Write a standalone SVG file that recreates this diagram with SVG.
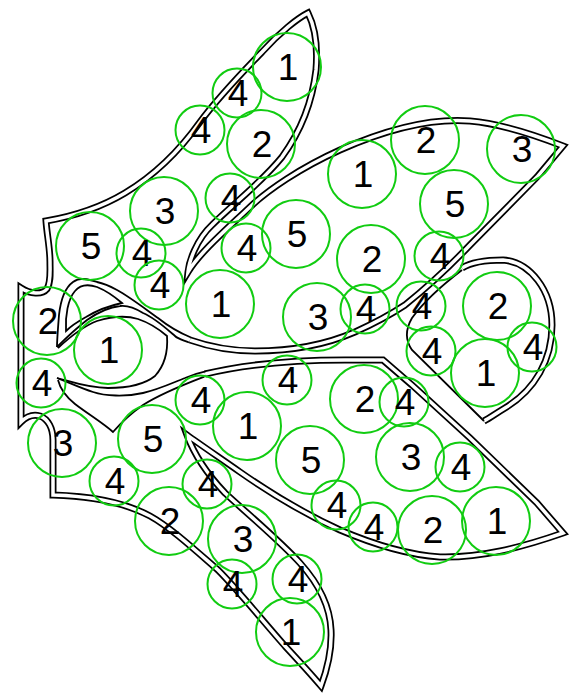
<svg xmlns="http://www.w3.org/2000/svg" width="575" height="698" viewBox="0 0 575 698">
<style>
.bk{fill:none;stroke:#000;stroke-width:7;stroke-linejoin:miter;stroke-miterlimit:12}
.wh{fill:none;stroke:#fff;stroke-width:3.5;stroke-linejoin:miter;stroke-miterlimit:12}
.sl{fill:none;stroke:#000;stroke-width:1.8;stroke-linejoin:miter}
.c{fill:none;stroke:#11cc11;stroke-width:2}
.t{font-family:"Liberation Sans",Arial,sans-serif;font-size:37px;text-anchor:middle;fill:#000}
</style>
<defs>
<path id="m1" d="M190,340 C210,347 230,351 255,351 C290,351 325,345 355,332 C375,323 390,315 405,305 C430,285 450,266 470,245 L537,177 L563,146 C540,137 505,124 470,121 C430,118 385,130 340,150 C300,168 268,190 250,207 C228,228 200,252 188,272 C189,262 196,240 212,225 C232,205 262,182 282,157 C298,135 312,105 316,70 C318,45 314,25 308,13 C298,18 280,32 262,52 C240,75 220,95 200,122 C180,150 155,175 125,193 C100,208 75,216 46,221 C47,235 50,248 50,262 C50,272 51,282 47,289 C42,295 30,294 21,288 L21,422 C26,417 33,414 40,416 C48,419 53,428 53,440 L53,495 C88,496 122,501 150,516 C170,527 195,550 218,570 C238,590 262,620 285,646 C298,660 310,673 321,686 C327,670 332,650 331,630 C330,605 318,583 300,563 C280,541 250,516 225,493 C208,475 194,454 187,435 C198,443 220,458 240,472 C270,493 305,514 340,530 C375,545 410,555 440,557 C480,558 520,548 563,533 L537,503 L470,438 L412,385 L383,360 L345,360 C300,360 250,363 205,374"/>
<path id="rp" d="M462,268 C470,263 485,260 503,260 C530,262 552,290 552,325 C552,360 535,390 505,408 C495,414 490,418 484,421"/>
</defs>
<rect width="575" height="698" fill="#fff"/>
<g id="outline">
<use href="#m1" class="bk"/>
<use href="#rp" class="bk"/>
<use href="#m1" class="wh"/>
<use href="#rp" class="wh"/>
<path class="sl" d="M462,270 C445,283 425,300 412,318 C405,330 405,340 412,350 L484,421"/>
<path class="sl" d="M191,337.5 C180,333 168,326 158,318 C148,311 130,297 117,290 C108,285 102,283 97,282 C88,279 80,277 73,282 C66,287 61,297 59,315 C58,328 57,340 57,347"/>
<path class="sl" d="M189,342.5 C183,340 178,339 175,336 C168,330 155,318 143,313 C135,308 128,305 120,306 C110,307 97,313 87,320 C78,327 66,338 57,347"/>
<path class="sl" d="M66,331 C65,316 68,299 75,291 C80,285 88,284 97,287 C107,291 115,297 122,303 C108,306 96,311 86,317 C77,322 70,327 66,331 Z"/>
<path class="sl" d="M58,348 C72,335 84,326 97,321 C110,317 125,315 138,319 C150,323 160,330 167,336 C168,350 165,365 155,376 C145,384 128,388 108,388 C88,388 72,382 57,378"/>
<path class="sl" d="M57,378 C68,382 80,388 93,392 C105,396 125,397 143,393 C160,389 172,383 185,378 C192,375 198,373 205.6,371.4"/>
<path class="sl" d="M58,380 C60,388 65,396 75,404 C88,414 103,423 113,432 C120,424 130,414 143,405 C160,394 180,386 204.4,376.6"/>
</g>
<g id="nodes">
<g id="n1"><circle class="c" cx="287" cy="67" r="34"/><text class="t" x="288" y="80">1</text></g>
<g id="n2"><circle class="c" cx="237" cy="93" r="24.5"/><text class="t" x="238" y="106">4</text></g>
<g id="n3"><circle class="c" cx="200" cy="130" r="24.5"/><text class="t" x="201" y="143">4</text></g>
<g id="n4"><circle class="c" cx="261" cy="144" r="34"/><text class="t" x="262" y="157">2</text></g>
<g id="n5"><circle class="c" cx="230" cy="198" r="24.5"/><text class="t" x="231" y="211">4</text></g>
<g id="n6"><circle class="c" cx="164" cy="211" r="34"/><text class="t" x="165" y="224">3</text></g>
<g id="n7"><circle class="c" cx="90" cy="246" r="34"/><text class="t" x="91" y="259">5</text></g>
<g id="n8"><circle class="c" cx="141" cy="253" r="24.5"/><text class="t" x="142" y="266">4</text></g>
<g id="n9"><circle class="c" cx="159" cy="285" r="24.5"/><text class="t" x="160" y="298">4</text></g>
<g id="n10"><circle class="c" cx="362" cy="174" r="34"/><text class="t" x="363" y="187">1</text></g>
<g id="n11"><circle class="c" cx="425" cy="140" r="34"/><text class="t" x="426" y="153">2</text></g>
<g id="n12"><circle class="c" cx="521" cy="149" r="34"/><text class="t" x="522" y="162">3</text></g>
<g id="n13"><circle class="c" cx="454" cy="204" r="34"/><text class="t" x="455" y="217">5</text></g>
<g id="n14"><circle class="c" cx="439" cy="256" r="24.5"/><text class="t" x="440" y="269">4</text></g>
<g id="n15"><circle class="c" cx="371" cy="259" r="34"/><text class="t" x="372" y="272">2</text></g>
<g id="n16"><circle class="c" cx="296" cy="234" r="34"/><text class="t" x="297" y="247">5</text></g>
<g id="n17"><circle class="c" cx="246" cy="248" r="24.5"/><text class="t" x="247" y="261">4</text></g>
<g id="n18"><circle class="c" cx="220" cy="304" r="34"/><text class="t" x="221" y="317">1</text></g>
<g id="n19"><circle class="c" cx="317" cy="317" r="34"/><text class="t" x="318" y="330">3</text></g>
<g id="n20"><circle class="c" cx="365" cy="309" r="24.5"/><text class="t" x="366" y="322">4</text></g>
<g id="n21"><circle class="c" cx="421" cy="306" r="24.5"/><text class="t" x="422" y="319">4</text></g>
<g id="n22"><circle class="c" cx="497" cy="306" r="34"/><text class="t" x="498" y="319">2</text></g>
<g id="n23"><circle class="c" cx="431" cy="351" r="24.5"/><text class="t" x="432" y="364">4</text></g>
<g id="n24"><circle class="c" cx="485" cy="373" r="34"/><text class="t" x="486" y="386">1</text></g>
<g id="n25"><circle class="c" cx="532" cy="347" r="24.5"/><text class="t" x="533" y="360">4</text></g>
<g id="n26"><circle class="c" cx="47" cy="321" r="34"/><text class="t" x="48" y="334">2</text></g>
<g id="n27"><circle class="c" cx="108" cy="350" r="34"/><text class="t" x="109" y="363">1</text></g>
<g id="n28"><circle class="c" cx="41" cy="383" r="24.5"/><text class="t" x="42" y="396">4</text></g>
<g id="n29"><circle class="c" cx="62" cy="443" r="34"/><text class="t" x="63" y="456">3</text></g>
<g id="n30"><circle class="c" cx="114" cy="481" r="24.5"/><text class="t" x="115" y="494">4</text></g>
<g id="n31"><circle class="c" cx="152" cy="439" r="34"/><text class="t" x="153" y="452">5</text></g>
<g id="n32"><circle class="c" cx="200" cy="400" r="24.5"/><text class="t" x="201" y="413">4</text></g>
<g id="n33"><circle class="c" cx="247" cy="426" r="34"/><text class="t" x="248" y="439">1</text></g>
<g id="n34"><circle class="c" cx="287" cy="380" r="24.5"/><text class="t" x="288" y="393">4</text></g>
<g id="n35"><circle class="c" cx="207" cy="484" r="24.5"/><text class="t" x="208" y="497">4</text></g>
<g id="n36"><circle class="c" cx="169" cy="521" r="34"/><text class="t" x="170" y="534">2</text></g>
<g id="n37"><circle class="c" cx="242" cy="539" r="34"/><text class="t" x="243" y="552">3</text></g>
<g id="n38"><circle class="c" cx="232" cy="584" r="24.5"/><text class="t" x="233" y="597">4</text></g>
<g id="n39"><circle class="c" cx="297" cy="579" r="24.5"/><text class="t" x="298" y="592">4</text></g>
<g id="n40"><circle class="c" cx="290" cy="632" r="34"/><text class="t" x="291" y="645">1</text></g>
<g id="n41"><circle class="c" cx="310" cy="460" r="34"/><text class="t" x="311" y="473">5</text></g>
<g id="n42"><circle class="c" cx="364" cy="399" r="34"/><text class="t" x="365" y="412">2</text></g>
<g id="n43"><circle class="c" cx="404" cy="402" r="24.5"/><text class="t" x="405" y="415">4</text></g>
<g id="n44"><circle class="c" cx="410" cy="457" r="34"/><text class="t" x="411" y="470">3</text></g>
<g id="n45"><circle class="c" cx="460" cy="467" r="24.5"/><text class="t" x="461" y="480">4</text></g>
<g id="n46"><circle class="c" cx="336" cy="505" r="24.5"/><text class="t" x="337" y="518">4</text></g>
<g id="n47"><circle class="c" cx="373" cy="527" r="24.5"/><text class="t" x="374" y="540">4</text></g>
<g id="n48"><circle class="c" cx="432" cy="530" r="34"/><text class="t" x="433" y="543">2</text></g>
<g id="n49"><circle class="c" cx="496" cy="521" r="34"/><text class="t" x="497" y="534">1</text></g>
</g>
</svg>
